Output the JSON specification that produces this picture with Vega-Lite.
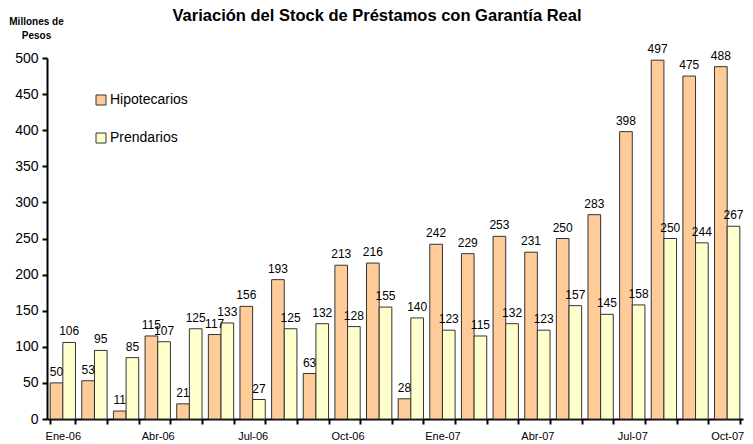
{
  "$schema": "https://vega.github.io/schema/vega-lite/v6.json",
  "width": 696,
  "height": 361,
  "autosize": "none",
  "padding": {"left": 47, "top": 58, "right": 10, "bottom": 25},
  "background": "white",
  "title": {
    "text": "Variación del Stock de Préstamos con Garantía Real",
    "font": "Liberation Sans",
    "fontSize": 16.5,
    "fontWeight": "bold",
    "color": "black",
    "anchor": "middle",
    "dx": -18,
    "offset": 0,
    "dy": 8
  },
  "config": {
    "view": {"stroke": null},
    "font": "Liberation Sans"
  },
  "data": {
    "values": [
      {"mes": "Ene-06", "serie": "Hipotecarios", "valor": 50},
      {"mes": "Ene-06", "serie": "Prendarios", "valor": 106},
      {"mes": "Feb-06", "serie": "Hipotecarios", "valor": 53},
      {"mes": "Feb-06", "serie": "Prendarios", "valor": 95},
      {"mes": "Mar-06", "serie": "Hipotecarios", "valor": 11},
      {"mes": "Mar-06", "serie": "Prendarios", "valor": 85},
      {"mes": "Abr-06", "serie": "Hipotecarios", "valor": 115},
      {"mes": "Abr-06", "serie": "Prendarios", "valor": 107},
      {"mes": "May-06", "serie": "Hipotecarios", "valor": 21},
      {"mes": "May-06", "serie": "Prendarios", "valor": 125},
      {"mes": "Jun-06", "serie": "Hipotecarios", "valor": 117},
      {"mes": "Jun-06", "serie": "Prendarios", "valor": 133},
      {"mes": "Jul-06", "serie": "Hipotecarios", "valor": 156},
      {"mes": "Jul-06", "serie": "Prendarios", "valor": 27},
      {"mes": "Ago-06", "serie": "Hipotecarios", "valor": 193},
      {"mes": "Ago-06", "serie": "Prendarios", "valor": 125},
      {"mes": "Sep-06", "serie": "Hipotecarios", "valor": 63},
      {"mes": "Sep-06", "serie": "Prendarios", "valor": 132},
      {"mes": "Oct-06", "serie": "Hipotecarios", "valor": 213},
      {"mes": "Oct-06", "serie": "Prendarios", "valor": 128},
      {"mes": "Nov-06", "serie": "Hipotecarios", "valor": 216},
      {"mes": "Nov-06", "serie": "Prendarios", "valor": 155},
      {"mes": "Dic-06", "serie": "Hipotecarios", "valor": 28},
      {"mes": "Dic-06", "serie": "Prendarios", "valor": 140},
      {"mes": "Ene-07", "serie": "Hipotecarios", "valor": 242},
      {"mes": "Ene-07", "serie": "Prendarios", "valor": 123},
      {"mes": "Feb-07", "serie": "Hipotecarios", "valor": 229},
      {"mes": "Feb-07", "serie": "Prendarios", "valor": 115},
      {"mes": "Mar-07", "serie": "Hipotecarios", "valor": 253},
      {"mes": "Mar-07", "serie": "Prendarios", "valor": 132},
      {"mes": "Abr-07", "serie": "Hipotecarios", "valor": 231},
      {"mes": "Abr-07", "serie": "Prendarios", "valor": 123},
      {"mes": "May-07", "serie": "Hipotecarios", "valor": 250},
      {"mes": "May-07", "serie": "Prendarios", "valor": 157},
      {"mes": "Jun-07", "serie": "Hipotecarios", "valor": 283},
      {"mes": "Jun-07", "serie": "Prendarios", "valor": 145},
      {"mes": "Jul-07", "serie": "Hipotecarios", "valor": 398},
      {"mes": "Jul-07", "serie": "Prendarios", "valor": 158},
      {"mes": "Ago-07", "serie": "Hipotecarios", "valor": 497},
      {"mes": "Ago-07", "serie": "Prendarios", "valor": 250},
      {"mes": "Sep-07", "serie": "Hipotecarios", "valor": 475},
      {"mes": "Sep-07", "serie": "Prendarios", "valor": 244},
      {"mes": "Oct-07", "serie": "Hipotecarios", "valor": 488},
      {"mes": "Oct-07", "serie": "Prendarios", "valor": 267}
    ]
  },
  "encoding": {
    "x": {
      "field": "mes",
      "type": "nominal",
      "sort": ["Ene-06","Feb-06","Mar-06","Abr-06","May-06","Jun-06","Jul-06","Ago-06","Sep-06","Oct-06","Nov-06","Dic-06","Ene-07","Feb-07","Mar-07","Abr-07","May-07","Jun-07","Jul-07","Ago-07","Sep-07","Oct-07"],
      "scale": {"paddingInner": 0.2, "paddingOuter": 0.1},
      "axis": {
        "title": null,
        "labelAngle": 0,
        "labelFontSize": 11,
        "labelColor": "black",
        "labelPadding": 6,
        "labelExpr": "test(/^(Ene|Abr|Jul|Oct)/, datum.label) ? datum.label : ''",
        "tickBand": "extent",
        "tickSize": 5,
        "tickWidth": 2,
        "tickColor": "black",
        "domainColor": "black",
        "domainWidth": 2,
        "grid": false
      }
    },
    "y": {
      "field": "valor",
      "type": "quantitative",
      "scale": {"domain": [0, 500], "nice": false},
      "axis": {
        "values": [0, 50, 100, 150, 200, 250, 300, 350, 400, 450, 500],
        "labelOverlap": false,
        "title": ["Millones de", "Pesos"],
        "titleAngle": 0,
        "titleFontSize": 10,
        "titleFontWeight": "bold",
        "titleAlign": "center",
        "titleBaseline": "top",
        "titleX": -11,
        "titleY": -42,
        "titleLineHeight": 14,
        "titleColor": "black",
        "labelFontSize": 14,
        "labelColor": "black",
        "labelPadding": 4,
        "tickSize": 5,
        "tickWidth": 2,
        "tickColor": "black",
        "domainColor": "black",
        "domainWidth": 2,
        "grid": false
      }
    }
  },
  "layer": [
    {
      "mark": {"type": "bar", "stroke": "#333333", "strokeWidth": 1},
      "encoding": {
        "xOffset": {"field": "serie", "type": "nominal", "sort": ["Hipotecarios", "Prendarios"]},
        "color": {
          "field": "serie",
          "type": "nominal",
          "scale": {"domain": ["Hipotecarios", "Prendarios"], "range": ["#FFCC99", "#FFFFCC"]},
          "legend": {
            "title": null,
            "orient": "none",
            "legendX": 47,
            "legendY": 35,
            "symbolType": "square",
            "symbolSize": 100,
            "symbolStrokeColor": "#333333",
            "symbolStrokeWidth": 1,
            "labelFontSize": 14,
            "labelColor": "black",
            "labelOffset": 2,
            "rowPadding": 24
          }
        }
      }
    },
    {
      "mark": {"type": "text", "baseline": "bottom", "dy": -4, "fontSize": 12, "color": "black"},
      "encoding": {
        "xOffset": {"field": "serie", "type": "nominal", "sort": ["Hipotecarios", "Prendarios"]},
        "text": {"field": "valor", "type": "quantitative"}
      }
    }
  ]
}
